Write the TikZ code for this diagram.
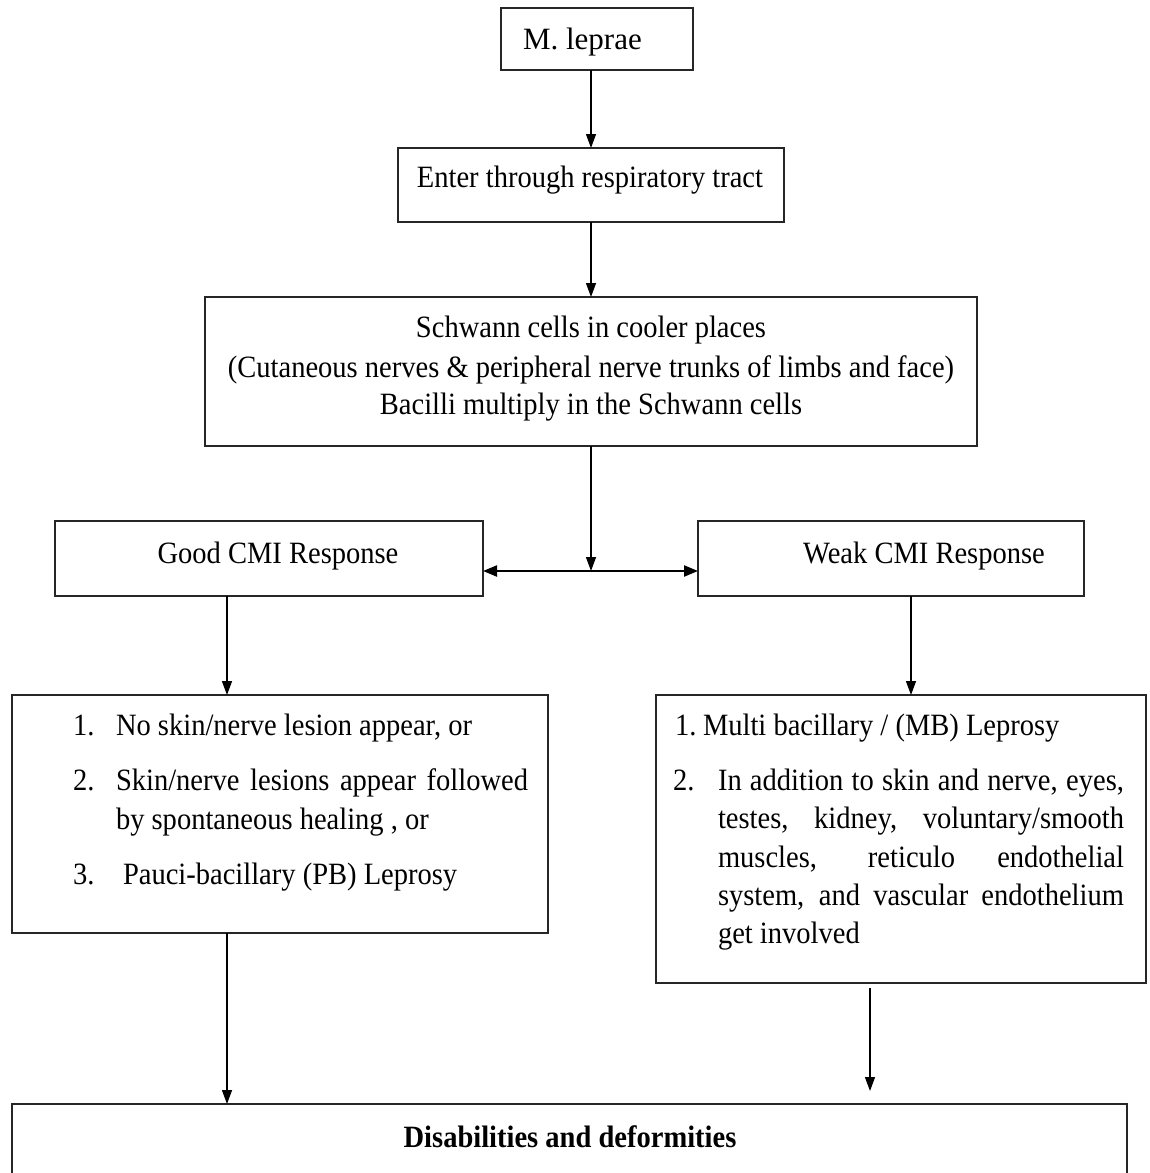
\documentclass[tikz,border=0pt]{standalone}
\usepackage{fontspec}
\setmainfont{Liberation Serif}[FakeStretch=0.92]
\newfontfamily\plainfont{Liberation Serif}
\usetikzlibrary{arrows.meta,calc}
\tikzset{
  boxst/.style={draw=black!85, line width=1.4pt, inner sep=0pt, outer sep=0pt},
  txt/.style={inner sep=0pt, outer sep=0pt, anchor=base, font=\fontsize{31}{38}\selectfont},
  txtw/.style={txt, anchor=base west},
  arr/.style={draw=black, line width=1.3pt, -{Triangle[length=14pt,width=10pt]}},
  darr/.style={draw=black, line width=2.2pt, {Triangle[length=14pt,width=11pt]}-{Triangle[length=14pt,width=11pt]}}
}
\begin{document}
\begin{tikzpicture}[x=1pt,y=-1pt]
\clip (0,0) rectangle (1149,1173);
\fill[white] (0,0) rectangle (1149,1173);
% boxes
\node[boxst, minimum width=192pt, minimum height=62pt] (m) at (597,39) {};
\node[boxst, minimum width=386pt, minimum height=74pt] (e) at (591,185) {};
\node[boxst, minimum width=772pt, minimum height=149pt] (s) at (591,371.5) {};
\node[boxst, minimum width=428pt, minimum height=75pt] (good) at (269,558.5) {};
\node[boxst, minimum width=386pt, minimum height=75pt] (weak) at (891,558.5) {};
\node[boxst, minimum width=536pt, minimum height=238pt] (L) at (280,814) {};
\node[boxst, minimum width=490pt, minimum height=288pt] (R) at (901,839) {};
\node[boxst, minimum width=1115pt, minimum height=96pt] (D) at (569.5,1152) {};
% texts
\node[txtw, font=\fontsize{31}{38}\plainfont] (tm) at (523,49) {M. leprae};
\node[txt] (te) at (590,187) {Enter through respiratory tract};
\node[txt] (ts1) at (591,337) {Schwann cells in cooler places};
\node[txt] (ts2) at (591,377) {(Cutaneous nerves \& peripheral nerve trunks of limbs and face)};
\node[txt] (ts3) at (591,414) {Bacilli multiply in the Schwann cells};
\node[txt] (tg) at (278,563) {Good CMI Response};
\node[txt] (tw) at (924,563) {Weak CMI Response};
% left list
\node[txtw] (l1n) at (73,735) {1.};
\node[txtw] (l1) at (116,735) {No skin/nerve lesion appear, or};
\node[txtw] (l2n) at (73,790) {2.};
\node[txtw] (l2a) at (116,790) {\makebox[412pt][s]{Skin/nerve lesions appear followed}};
\node[txtw] (l2b) at (116,829) {by spontaneous healing , or};
\node[txtw] (l3n) at (73,884) {3.};
\node[txtw] (l3) at (123,884) {Pauci-bacillary (PB) Leprosy};
% right list
\node[txtw] (r1n) at (675,735) {1.};
\node[txtw] (r1) at (703,735) {Multi bacillary / (MB) Leprosy};
\node[txtw] (r2n) at (673,790) {2.};
\node[txtw] (r2a) at (718,790) {\makebox[406pt][s]{In addition to skin and nerve, eyes,}};
\node[txtw] (r2b) at (718,828) {\makebox[406pt][s]{testes, kidney, voluntary/smooth}};
\node[txtw] (r2c) at (718,867) {\makebox[406pt][s]{muscles, reticulo endothelial}};
\node[txtw] (r2d) at (718,905) {\makebox[406pt][s]{system, and vascular endothelium}};
\node[txtw] (r2e) at (718,943) {get involved};
% bottom
\node[txt, font=\fontsize{31}{38}\selectfont\bfseries] (td) at (570,1147) {Disabilities and deformities};
% helper coordinates
\coordinate (j) at (591,571);
\coordinate (c1) at (227,0);
\coordinate (c2) at (911,0);
\coordinate (c3) at (870,0);
% connectors
\draw[arr] (e.north |- m.south) -- (e.north);
\draw[arr] (e.south) -- (s.north);
\draw[arr] (s.south) -- (j);
\draw[darr] (good.east |- j) -- (weak.west |- j);
\draw[arr] (good.south -| c1) -- (L.north -| c1);
\draw[arr] (weak.south -| c2) -- (R.north -| c2);
\draw[arr] (L.south -| c1) -- (D.north -| c1);
\draw[arr] ([yshift=-5pt]R.south -| c3) -- ([yshift=13pt]D.north -| c3);
\end{tikzpicture}
\end{document}
